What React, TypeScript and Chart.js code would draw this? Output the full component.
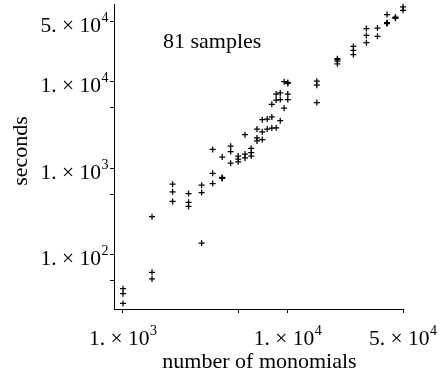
import React, { useEffect, useRef } from 'react';
import { Chart, registerables } from 'chart.js';

Chart.register(...registerables);

// number of monomials (x) and seconds (y) for the 81 samples
const monomials: number[] = [
  1000, 1000, 1000, 1500, 1500, 1500, 2000, 2000, 2000, 2500,
  2500, 2500, 3000, 3000, 3000, 3500, 3500, 3500, 4000, 4000,
  4000, 4500, 4500, 4500, 5000, 5000, 5000, 5500, 5500, 5500,
  6000, 6000, 6000, 6500, 6500, 6500, 7000, 7000, 7000, 7500,
  7500, 8000, 8000, 8000, 8500, 8500, 8500, 9000, 9000, 9000,
  9500, 10000, 10000, 10000, 9500, 15000, 15000, 15000, 20000, 20000,
  20000, 25000, 25000, 25000, 30000, 30000, 30000, 35000, 35000, 40000,
  40000, 40000, 45000, 45000, 50000, 50000, 40000, 45000, 4000, 20000,
  10000,
];
const seconds: number[] = [
  40, 35, 27, 273, 62, 52, 650, 530, 410, 507,
  401, 359, 633, 520, 135, 1640, 870, 660, 1340, 778,
  757, 1790, 1550, 1140, 1375, 1270, 1180, 1450, 1310, 2430,
  1685, 1505, 1375, 2830, 2230, 2060, 3630, 2630, 2140, 3690,
  2830, 3910, 2900, 5480, 2920, 7180, 6130, 7410, 6210, 3530,
  10000, 9560, 7180, 6210, 4930, 10130, 9120, 5740, 18500, 17300,
  16100, 25600, 23100, 20600, 41200, 34400, 28300, 41800, 33500, 60000,
  48300, 47000, 55900, 54400, 73800, 67200, 47700, 55000, 765, 18000,
  9800,
];

const xTickValues: number[] = [1000, 5000, 10000, 50000];
const yTickValues: number[] = [50, 100, 500, 1000, 5000, 10000, 50000];

const xLabelValues: number[] = [1000, 10000, 50000];
const xLabelMantissas: string[] = ['1.', '1.', '5.'];
const xLabelExponents: string[] = ['3', '4', '4'];

const yLabelValues: number[] = [100, 1000, 10000, 50000];
const yLabelMantissas: string[] = ['1.', '1.', '1.', '5.'];
const yLabelExponents: string[] = ['2', '3', '4', '4'];

const xTitle = 'number of monomials';
const yTitle = 'seconds';
const annotation = '81 samples';

const FONT = '"Liberation Serif", "Times New Roman", serif';

function drawPower(ctx: CanvasRenderingContext2D, mant: string, exp: string, x: number, baseline: number, align: 'center' | 'right') {
  const main = mant + ' \u00d7 10';
  ctx.font = `21.5px ${FONT}`;
  const mw = ctx.measureText(main).width;
  ctx.font = `14px ${FONT}`;
  const ew = ctx.measureText(exp).width;
  const total = mw + ew + 0.5;
  const start = align === 'center' ? x - total / 2 : x - total;
  ctx.textAlign = 'left';
  ctx.textBaseline = 'alphabetic';
  ctx.font = `21.5px ${FONT}`;
  ctx.fillText(main, start, baseline);
  ctx.font = `14px ${FONT}`;
  ctx.fillText(exp, start + mw + 0.5, baseline - 10);
}

const labelPlugin = {
  id: 'labelPlugin',
  afterDraw(chart: any) {
    const ctx: CanvasRenderingContext2D = chart.ctx;
    const xs = chart.scales.x;
    const ys = chart.scales.y;
    ctx.save();
    ctx.fillStyle = '#000';
    xLabelValues.forEach((v, i) => {
      const px = xs.getPixelForValue(v);
      drawPower(ctx, xLabelMantissas[i], xLabelExponents[i], px, 345, 'center');
    });
    yLabelValues.forEach((v, i) => {
      const py = ys.getPixelForValue(v);
      drawPower(ctx, yLabelMantissas[i], yLabelExponents[i], 108.5, py + 10.5, 'right');
    });
    ctx.font = `22px ${FONT}`;
    ctx.textAlign = 'center';
    ctx.textBaseline = 'alphabetic';
    ctx.fillText(xTitle, (chart.chartArea.left + chart.chartArea.right) / 2 + 1, 368);
    ctx.save();
    ctx.translate(27, 151);
    ctx.rotate(-Math.PI / 2);
    ctx.fillText(yTitle, 0, 0);
    ctx.restore();
    ctx.textAlign = 'left';
    ctx.fillText(annotation, 163, 48);
    ctx.restore();
  },
};

export default function App() {
  const ref = useRef<HTMLCanvasElement | null>(null);
  useEffect(() => {
    if (!ref.current) return;
    const chart = new Chart(ref.current, {
      type: 'scatter',
      data: {
        datasets: [
          {
            data: monomials.map((m, i) => ({ x: m, y: seconds[i] })),
            pointStyle: 'cross',
            pointRadius: 3,
            pointHoverRadius: 3,
            borderColor: '#000',
            backgroundColor: '#000',
            borderWidth: 1.25,
            clip: false as any,
          },
        ],
      },
      options: {
        animation: false,
        responsive: false,
        events: [],
        layout: { padding: { left: 0, right: 45, top: 2, bottom: 0 } },
        plugins: { legend: { display: false }, tooltip: { enabled: false } },
        scales: {
          x: {
            type: 'logarithmic',
            min: 882,
            max: 50000,
            afterBuildTicks: (s: any) => {
              s.ticks = xTickValues.map((v) => ({ value: v }));
            },
            afterFit: (s: any) => {
              s.height = 70;
              s.paddingLeft = 0;
              s.paddingRight = 0;
            },
            ticks: { callback: () => '', autoSkip: false, maxRotation: 0, padding: 0, font: { size: 1 } },
            grid: { drawOnChartArea: false, drawTicks: true, tickLength: 4, color: '#000', lineWidth: 1 },
            border: { display: true, color: '#000', width: 1 },
          },
          y: {
            type: 'logarithmic',
            min: 23.3,
            max: 78900,
            afterBuildTicks: (s: any) => {
              s.ticks = yTickValues.map((v) => ({ value: v }));
            },
            afterFit: (s: any) => {
              s.width = 114;
              s.paddingTop = 0;
              s.paddingBottom = 0;
            },
            ticks: { callback: () => '', autoSkip: false, padding: 0, font: { size: 1 } },
            grid: { drawOnChartArea: false, drawTicks: true, tickLength: 4, color: '#000', lineWidth: 1 },
            border: { display: true, color: '#000', width: 1 },
          },
        },
      },
      plugins: [labelPlugin],
    });
    return () => chart.destroy();
  }, []);
  return (
    <div style={{ position: 'absolute', left: 0, top: 0, width: 448, height: 379, background: '#fff' }}>
      <canvas ref={ref} width={448} height={379} style={{ display: 'block', width: 448, height: 379 }} />
    </div>
  );
}
